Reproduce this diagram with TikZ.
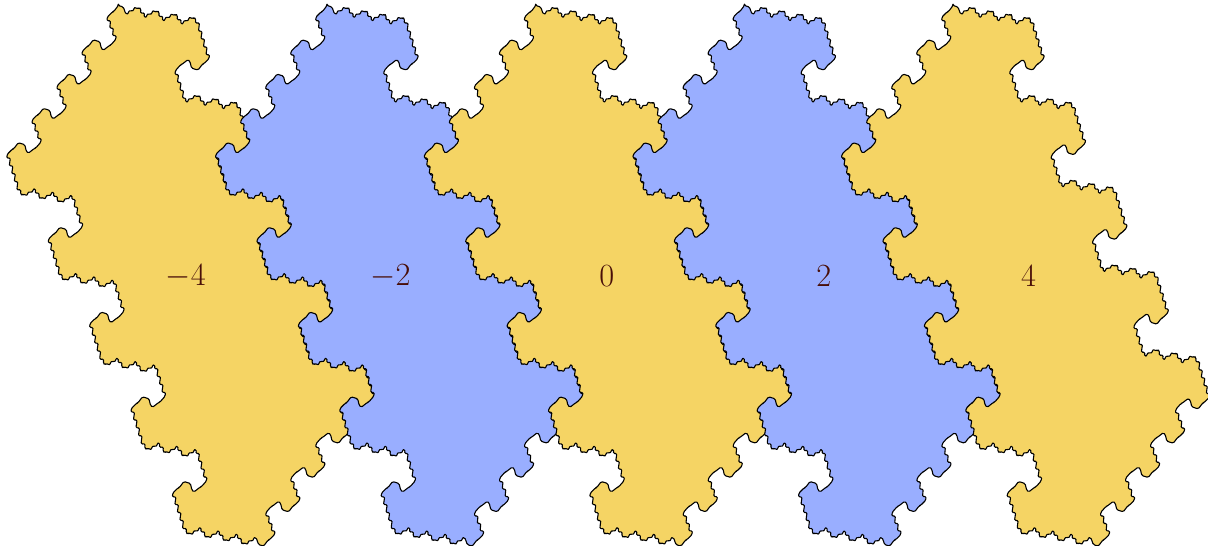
\documentclass[tikz,border=0pt]{standalone}
\usepackage{amsmath}
\usepackage{xcolor}
\definecolor{tilegold}{RGB}{245,212,100}
\definecolor{tileblue}{RGB}{153,174,255}
\definecolor{labelbrown}{RGB}{72,14,8}
% one wiggle of the boundary along the vector (#1,#2)
\newcommand{\zig}[2]{-- ++({\sg*(0.45*#1-0.22*#2)},{\sg*(0.45*#2+0.22*#1)}) -- ++({\sg*(0.1*#1+0.44*#2)},{\sg*(0.1*#2-0.44*#1)}) -- ++({\sg*(0.45*#1-0.22*#2)},{\sg*(0.45*#2+0.22*#1)})}
\newcommand{\stp}[2]{-- ++({\sg*#1},{\sg*#2})}
\newcommand{\tooth}{\zig{5.3}{-3.2}\zig{5.3}{-3.2}\zig{4.5}{1.3}\zig{3.2}{8.4}}
\newcommand{\sidelong}{\zig{2.5}{7.9}\zig{2.5}{7.9}\zig{2.5}{7.9}\zig{2.5}{7.7}}
\newcommand{\sideshort}{\zig{2.83}{7.43}\zig{2.83}{7.43}\zig{2.84}{7.44}}
\newcommand{\diag}{\stp{-5}{5}\stp{-1.5}{0.5}\stp{-4.5}{6}}
\newcommand{\hook}{\diag\stp{-6.5}{-2}\stp{-1.5}{-6.5}\stp{-2}{-2}\stp{-6}{4.7}\stp{-1.5}{0.6}\stp{-5}{5.7}}
\newcommand{\rowblock}{\sidelong\tooth\tooth\tooth\sidelong\hook}
\newcommand{\fingerblock}{\sideshort\hook}
\newcommand{\halfedge}{\stp{5}{1.5}\stp{2.5}{7}\tooth\tooth\tooth\tooth\sidelong\hook
  \rowblock\rowblock\rowblock\rowblock
  \fingerblock\fingerblock\fingerblock\sideshort\diag}
\begin{document}
\begin{tikzpicture}[
  x=1pt, y=-1pt,
  tile/.style={draw=black, line width=1.1pt, line join=round, rounded corners=1.3pt},
  lab/.style={text=labelbrown, font=\Huge, scale=1.3, transform shape, inner sep=0pt}
]
  \useasboundingbox (0,0) rectangle (1208,546);
  \foreach \xtip/\col in {118.3/tilegold, 327/tileblue, 535.7/tilegold, 744.4/tileblue, 953/tilegold}
    \draw[tile, fill=\col] (\xtip,5.5) \foreach \sg in {1,-1} {\halfedge} -- cycle;
  \node[lab] (a) at (185.8,276) {$-4$};
  \node[lab] (b) at (390.5,276) {$-2$};
  \node[lab] (c) at (606.7,276) {$0$};
  \node[lab] (d) at (823.7,276) {$2$};
  \node[lab] (e) at (1028.5,276) {$4$};
\end{tikzpicture}
\end{document}
